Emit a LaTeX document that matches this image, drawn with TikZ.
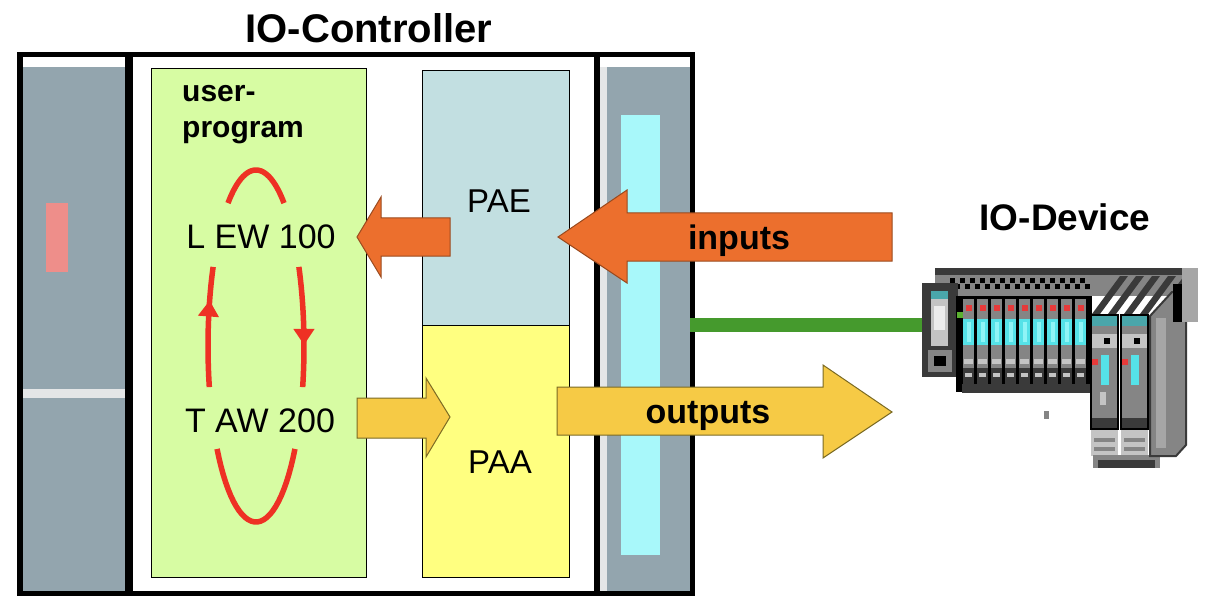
\documentclass[tikz,border=0pt]{standalone}
\usepackage{fontspec}
\setmainfont{Liberation Sans}
\usetikzlibrary{arrows.meta,decorations.markings}
\definecolor{rackgray}{HTML}{93A5AE}
\definecolor{rackstrip}{HTML}{E4E6E7}
\definecolor{ledpink}{HTML}{EE8E8A}
\definecolor{busbar}{HTML}{A8F8FA}
\definecolor{progfill}{HTML}{D7FCA3}
\definecolor{paefill}{HTML}{C2DFE1}
\definecolor{paafill}{HTML}{FFFF80}
\definecolor{loopred}{HTML}{EE3124}
\definecolor{inorange}{HTML}{EC6F2D}
\definecolor{inedge}{HTML}{9A4A1E}
\definecolor{outyellow}{HTML}{F6CA45}
\definecolor{outedge}{HTML}{7A6A24}
\definecolor{netgreen}{HTML}{459A2D}
\definecolor{devdark}{HTML}{3A3A3A}
\definecolor{devmid}{HTML}{858585}
\definecolor{devpale}{HTML}{A6A6A6}
\definecolor{devlight}{HTML}{C4C4C4}
\definecolor{devcyan}{HTML}{55E2E8}
\definecolor{devcyanhi}{HTML}{8FF4F6}
\definecolor{devteal}{HTML}{4AA6AA}
\definecolor{devred}{HTML}{E63A3A}
\definecolor{devgreen}{HTML}{5AB030}
\begin{document}
\begin{tikzpicture}[x=1pt,y=-1pt,
  titletext/.style={font=\fontsize{40}{44}\selectfont\bfseries, anchor=base, inner sep=0pt},
  devtext/.style={font=\fontsize{37}{41}\selectfont\bfseries, anchor=base, inner sep=0pt},
  progtext/.style={font=\fontsize{30}{34}\selectfont\bfseries, anchor=base west, inner sep=0pt},
  codetext/.style={font=\fontsize{34}{38}\selectfont, anchor=base, inner sep=0pt},
  imgtext/.style={font=\fontsize{33}{37}\selectfont, anchor=base, inner sep=0pt},
  flowtext/.style={font=\fontsize{34}{38}\selectfont\bfseries, anchor=base, inner sep=0pt},
  areabox/.style={draw=black, line width=1pt, inner sep=0pt, outer sep=0pt},
  inarrow/.style={fill=inorange, draw=inedge, line width=1pt, line join=miter},
  outarrow/.style={fill=outyellow, draw=outedge, line width=1pt, line join=miter},
  loopline/.style={draw=loopred, line width=5.5pt},
  loopmark/.style={postaction={decorate}, decoration={markings,
      mark=at position #1 with {\arrow[loopred]{Triangle[width=20pt,length=16pt]}}}},
  netlink/.style={draw=netgreen, line width=14pt}
]
\useasboundingbox (0,0) rectangle (1210,596);

% ---------- controller rack ----------
% left module
\fill[rackgray] (23,67) rectangle (125,596);
\fill[rackstrip] (23,389) rectangle (125,398);
\fill[ledpink] (46,203) rectangle (68,272);
% right (interface) module with backplane bus
\fill[rackstrip] (600,67) rectangle (607,596);
\fill[rackgray] (607,67) rectangle (690,596);
\fill[busbar] (621,115) rectangle (660,555);
% frame and separators
\draw[line width=5.5pt] (20,54.5) rectangle (692.5,594);
\draw[line width=8pt] (129,54.5) -- (129,594);
\draw[line width=6pt] (597,54.5) -- (597,594);

% ---------- CPU areas ----------
\node[areabox, fill=progfill, minimum width=215pt, minimum height=508pt] (prog) at (258.5,323) {};
\node[areabox, fill=paefill, minimum width=147pt, minimum height=254pt] (pae) at (495.5,198) {};
\node[areabox, fill=paafill, minimum width=147pt, minimum height=252pt] (paa) at (495.5,451) {};

% ---------- program cycle ----------
\coordinate (loopc) at (256,346);
\draw[loopline] plot[domain=-125.7:-54.3, samples=30, variable=\t] ({256+48*cos(\t)},{346+176*sin(\t)});
\draw[loopline, loopmark=0.72] plot[domain=166.5:206.7, samples=20, variable=\t] ({256+48*cos(\t)},{346+176*sin(\t)});
\draw[loopline, loopmark=0.65] plot[domain=-26.7:13.5, samples=20, variable=\t] ({256+48*cos(\t)},{346+176*sin(\t)});
\draw[loopline] plot[domain=35.8:144.2, samples=30, variable=\t] ({256+48*cos(\t)},{346+176*sin(\t)});

% ---------- network link ----------
\coordinate (linkA) at (690,324.5);
\coordinate (linkB) at (926,324.5);
\draw[netlink] (linkA) -- (linkB);

% ---------- data flow arrows ----------
\draw[inarrow] (892,213) -- (627,213) -- (627,190) -- (558,237) -- (627,283) -- (627,261) -- (892,261) -- cycle;
\draw[inarrow] (450,218) -- (381,218) -- (381,197) -- (357,237) -- (381,277) -- (381,256) -- (450,256) -- cycle;
\draw[outarrow] (357,398) -- (426,398) -- (426,378) -- (450,417) -- (426,457) -- (426,438) -- (357,438) -- cycle;
\draw[outarrow] (557,387) -- (823,387) -- (823,365) -- (892,412) -- (823,458) -- (823,435) -- (557,435) -- cycle;

% ---------- texts ----------
\node[titletext] (ctrltitle) at (369,43) {IO-Controller};
\node[devtext] (devtitle) at (1065,230) {IO-Device};
\node[progtext] (usr1) at (182,102) {user-};
\node[progtext] (usr2) at (182,138) {program};
\node[codetext] (lew) at (261,248) {L EW 100};
\node[codetext] (taw) at (260,432) {T AW 200};
\node[imgtext] (paetext) at (499,213) {PAE};
\node[imgtext] (paatext) at (500,473) {PAA};
\node[flowtext] (intext) at (739,250) {inputs};
\node[flowtext] (outtext) at (708,423) {outputs};

% ---------- IO-Device station ----------
% top rail with vents
\fill[devmid] (935,268) rectangle (1197,296);
\fill[devdark] (935,268) rectangle (1197,275);
\foreach \i in {0,...,13} {
  \fill[black] (950+\i*10,278) rectangle ++(5,5);
  \fill[black] (955+\i*10,284) rectangle ++(5,5);
}
\foreach \i in {0,...,4} {
  \fill[devdark] (1092+\i*16,314) -- (1100+\i*16,314) -- (1128+\i*16,276) -- (1120+\i*16,276) -- cycle;
}
% head module
\fill[devdark] (922,283) rectangle (958,377);
\fill[devlight] (931,291) rectangle (948,346);
\fill[devteal] (931,291) rectangle (948,299);
\fill[white!85!gray] (934,306) rectangle (945,330);
\fill[devmid] (928,350) rectangle (952,372);
\fill[black] (934,356) rectangle (946,366);
% electronic modules
\fill[black] (956,296) rectangle (1092,392);
\fill[devgreen] (957,312) rectangle (963,318);
\foreach \i [evaluate=\i as \xo using 962+14*\i] in {0,...,8} {
  \fill[devmid] (\xo+1,299) rectangle (\xo+12,384);
  \fill[devred] (\xo+4,305) rectangle (\xo+10,311);
  \fill[devcyan] (\xo+1,319) rectangle (\xo+12,345);
  \fill[devcyanhi] (\xo+5,322) rectangle (\xo+9,342);
  \fill[devlight] (\xo+2,359) rectangle (\xo+11,364);
  \fill[devdark] (\xo+1,368) rectangle (\xo+12,384);
  \fill[devlight] (\xo+3,373) rectangle (\xo+10,377);
}
\fill[devdark] (962,384) rectangle (1092,393);
% power modules
\foreach \j [evaluate=\j as \xo using 1090+30*\j] in {0,1} {
  \fill[black] (\xo,314) rectangle (\xo+29,430);
  \fill[devmid] (\xo+2,316) rectangle (\xo+27,418);
  \fill[devteal] (\xo+2,316) rectangle (\xo+27,326);
  \fill[devlight] (\xo+2,334) rectangle (\xo+27,348);
  \fill[black] (\xo+14,338) rectangle (\xo+20,344);
  \fill[devred] (\xo+2,359) rectangle (\xo+8,365);
  \fill[devcyan] (\xo+11,355) rectangle (\xo+19,385);
  \fill[devdark] (\xo+2,418) rectangle (\xo+27,428);
  \fill[devlight] (\xo+1,430) rectangle (\xo+28,456);
  \fill[devmid] (\xo+4,438) rectangle (\xo+25,442);
  \fill[devmid] (\xo+4,447) rectangle (\xo+25,451);
}
\fill[devlight] (1100,392) rectangle (1106,405);
\fill[devmid] (1093,455) rectangle (1160,468);
\fill[devdark] (1098,460) rectangle (1155,468);
% end plate
\filldraw[fill=devmid, draw=devdark, line width=2pt] (1150,316) -- (1172,292) -- (1186,292) -- (1186,445) -- (1176,456) -- (1150,456) -- cycle;
\fill[devpale] (1156,318) rectangle (1166,448);
% upper right corner
\fill[devpale] (1182,268) rectangle (1198,322);
\fill[black] (1173,284) rectangle (1182,322);
% loose marker
\fill[devmid] (1044,411) rectangle (1049,419);
\end{tikzpicture}
\end{document}
